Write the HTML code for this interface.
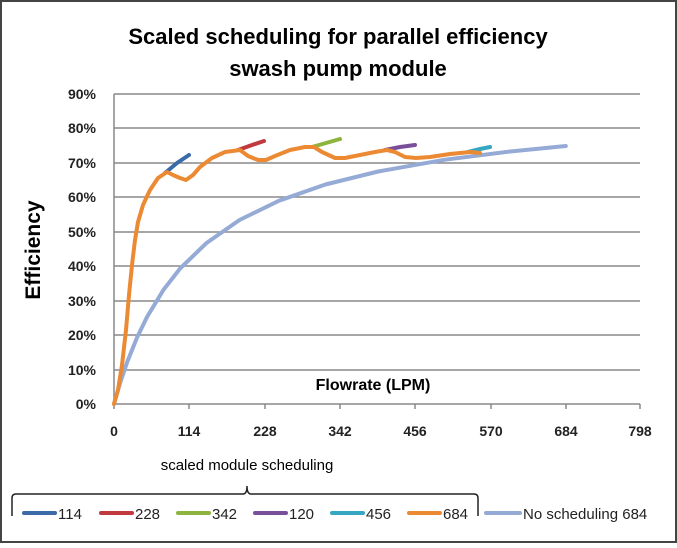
<!DOCTYPE html><html><head><style>body{margin:0;background:#fff}</style></head><body>
<svg width="677" height="543" xmlns="http://www.w3.org/2000/svg" font-family="Liberation Sans, sans-serif">
<rect x="1" y="1" width="675" height="541" fill="#fff" stroke="#444" stroke-width="2"/>
<text x="338" y="44" text-anchor="middle" font-size="22" font-weight="bold">Scaled scheduling for parallel efficiency</text>
<text x="338" y="76" text-anchor="middle" font-size="22" font-weight="bold">swash pump module</text>
<g stroke="#888" stroke-width="1.5">
<line x1="114" y1="94" x2="640" y2="94"/><line x1="114" y1="128" x2="640" y2="128"/><line x1="114" y1="163" x2="640" y2="163"/><line x1="114" y1="197" x2="640" y2="197"/><line x1="114" y1="232" x2="640" y2="232"/><line x1="114" y1="266" x2="640" y2="266"/><line x1="114" y1="301" x2="640" y2="301"/><line x1="114" y1="335" x2="640" y2="335"/><line x1="114" y1="370" x2="640" y2="370"/><line x1="114" y1="404" x2="640" y2="404"/>
<line x1="114" y1="94" x2="114" y2="409"/>
<line x1="189" y1="404" x2="189" y2="409"/><line x1="265" y1="404" x2="265" y2="409"/><line x1="340" y1="404" x2="340" y2="409"/><line x1="415" y1="404" x2="415" y2="409"/><line x1="491" y1="404" x2="491" y2="409"/><line x1="566" y1="404" x2="566" y2="409"/><line x1="640" y1="404" x2="640" y2="409"/>
</g>
<g font-size="14" font-weight="bold" text-anchor="end" fill="#222">
<text x="96" y="99">90%</text><text x="96" y="133">80%</text><text x="96" y="168">70%</text><text x="96" y="202">60%</text><text x="96" y="237">50%</text><text x="96" y="271">40%</text><text x="96" y="306">30%</text><text x="96" y="340">20%</text><text x="96" y="375">10%</text><text x="96" y="409">0%</text>
</g>
<g font-size="14" font-weight="bold" text-anchor="middle" fill="#222">
<text x="114" y="436">0</text><text x="189" y="436">114</text><text x="265" y="436">228</text><text x="340" y="436">342</text><text x="415" y="436">456</text><text x="491" y="436">570</text><text x="566" y="436">684</text><text x="640" y="436">798</text>
</g>
<text x="373" y="390" text-anchor="middle" font-size="16" font-weight="bold">Flowrate (LPM)</text>
<text transform="translate(40,250) rotate(-90)" text-anchor="middle" font-size="21" font-weight="bold">Efficiency</text>
<g fill="none" stroke-width="4" stroke-linecap="round" stroke-linejoin="round">
<polyline stroke="#95abd6" points="114,404 117.3,392.3 120.6,381.5 127.2,362 137.1,337.4 147,317 163.5,289.8 180.1,268.5 206.5,243 239.5,220 279.1,200.7 325.4,184.5 378.2,171.5 444.3,159.8 510.3,151.5 565.8,146"/>
<polyline stroke="#3b6aa8" points="165,173 177,163 189,155"/>
<polyline stroke="#c0393e" points="238,150 252,145 264,141"/>
<polyline stroke="#8db43e" points="312,147 326,143 340,139"/>
<polyline stroke="#7a4f9a" points="385,150 400,147 415,145"/>
<polyline stroke="#36a7c0" points="468,152 480,149 490,147"/>
<polyline stroke="#ec8a33" points="114,404 118,390 122,365 126,330 129,295 132,265 135,240 138,222 143,205 150,190 158,178 167,172 173,175 180,178 186,180 193,175 200,167 212,158 225,152 240,150 248,156 258,160 266,160 275,156 290,150 305,147 314,147 322,152 335,158 345,158 360,155 375,152 387,150 395,152 405,157 416,158 430,157 450,154 470,152 480,153"/>
</g>
<text x="247" y="470" text-anchor="middle" font-size="15">scaled module scheduling</text>
<path d="M12,516 V498 Q12,494 16,494 H243 Q247,494 247,486 Q247,494 251,494 H474 Q478,494 478,498 V516" fill="none" stroke="#222" stroke-width="1.5"/>
<g stroke-width="4" stroke-linecap="round">
<line x1="24" y1="513" x2="55" y2="513" stroke="#3b6aa8"/>
<line x1="101" y1="513" x2="132" y2="513" stroke="#c0393e"/>
<line x1="178" y1="513" x2="209" y2="513" stroke="#8db43e"/>
<line x1="255" y1="513" x2="286" y2="513" stroke="#7a4f9a"/>
<line x1="332" y1="513" x2="363" y2="513" stroke="#36a7c0"/>
<line x1="409" y1="513" x2="440" y2="513" stroke="#ec8a33"/>
<line x1="486" y1="513" x2="520" y2="513" stroke="#95abd6"/>
</g>
<g font-size="15" fill="#222">
<text x="58" y="519">114</text><text x="135" y="519">228</text><text x="212" y="519">342</text><text x="289" y="519">120</text><text x="366" y="519">456</text><text x="443" y="519">684</text><text x="523" y="519">No scheduling 684</text>
</g>
</svg>
</body></html>
